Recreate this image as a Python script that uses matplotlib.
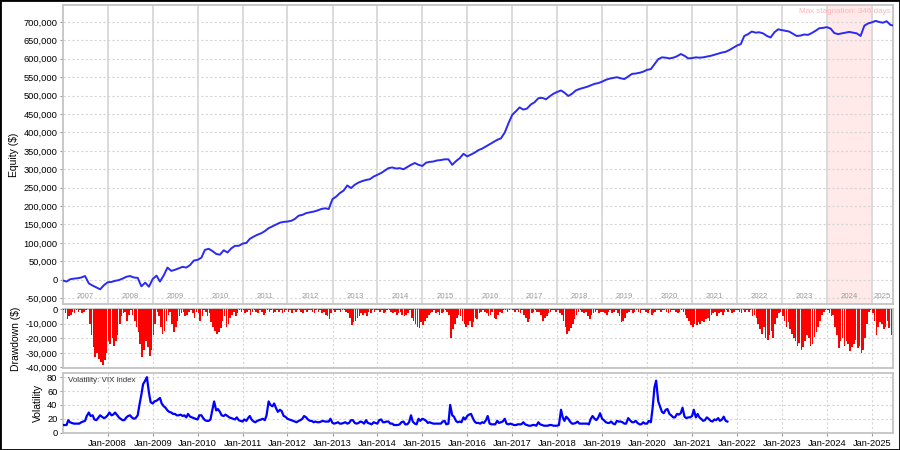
import numpy as np
import pandas as pd
import matplotlib
matplotlib.use("Agg")
import matplotlib.pyplot as plt
import matplotlib.dates as mdates
from matplotlib.patches import Rectangle
from matplotlib.ticker import FuncFormatter, MultipleLocator

plt.rcParams["font.family"] = ["Liberation Sans", "DejaVu Sans"]

# equity in thousands of $, one value per month from Jan 2007
equity_k = [
    -2, -5, 1, 3, 4, 6, 10, -10, -16, -21, -26, -15,
    -7, -6, -3, -1, 3, 8, 10, 6, 5, -18, -8, -19,
    2, 11, -5, 12, 33, 24, 27, 31, 35, 33, 40, 52,
    54, 60, 81, 84, 78, 70, 68, 80, 74, 85, 92, 92,
    98, 100, 111, 117, 122, 126, 132, 140, 145, 150, 155, 157,
    158, 160, 165, 174, 176, 181, 183, 185, 188, 192, 194, 192,
    219, 226, 235, 242, 256, 249, 258, 264, 268, 271, 273, 280,
    285, 290, 296, 303, 305, 302, 303, 300, 306, 312, 317, 312,
    309, 318, 320, 321, 324, 325, 327, 327, 312, 322, 330, 342,
    335, 340, 345, 352, 356, 362, 368, 374, 380, 384, 400, 425,
    448, 458, 468, 462, 465, 476, 482, 493, 494, 490, 498, 505,
    510, 514, 508, 499, 505, 514, 518, 521, 524, 528, 532, 534,
    538, 543, 546, 548, 550, 547, 545, 552, 559, 560, 562, 565,
    570, 572, 585, 599, 604, 603, 601, 603, 607, 613, 608, 601,
    602, 604, 603, 604, 606, 608, 611, 614, 617, 619, 624, 630,
    636, 640, 662, 667, 674, 671, 672, 669, 662, 658, 672, 680,
    678, 676, 674, 668, 662, 663, 666, 665, 670, 676, 683, 684,
    686, 682, 670, 667, 669, 671, 673, 671, 669, 662, 690, 696,
    699, 703, 700, 698, 702, 692, 690,
]

# drawdown in thousands of $, two values per month from Jan 2007
drawdown_k = [
    -1, -3, -7, -5, -4, -2, -3, -1, -2, -1, -3, -2, -1, 0, -10, -18, -26, -33, -30, -34, -36, -38, -35, -30,
    -22, -24, -20, -25, -22, -18, -10, -5, -3, -2, -8, -4, -1, -4, -8, -12, -16, -24, -33, -28, -22, -26, -32, -28,
    -18, -10, -2, -5, -12, -17, -15, -8, -4, -2, -10, -16, -12, -8, -5, -3, -2, -5, -4, -2, -1, -3, -6, -2,
    -3, -8, -5, -1, -2, -5, -3, -9, -12, -15, -17, -16, -13, -8, -5, -12, -10, -6, -4, -2, -5, -3, -1, -2,
    -1, -3, -2, -1, -4, -2, -1, -2, -3, -1, -2, -4, -3, -1, -2, -1, -3, -2, -1, -2, -1, -3, -2, -1,
    -2, -1, -3, -1, -2, -1, -1, -2, -3, -1, -2, -1, -1, -2, -3, -1, -2, -1, -3, -2, -4, -5, -7, -3,
    -1, -2, -1, -1, -2, -1, -1, -2, -3, -6, -11, -9, -8, -6, -5, -3, -4, -3, -5, -2, -3, -1, -2, -1,
    -1, -2, -1, -3, -2, -1, -1, -2, -3, -2, -4, -3, -2, -4, -5, -4, -3, -1, -6, -8, -10, -12, -13, -9,
    -11, -8, -6, -4, -3, -2, -1, -3, -2, -4, -3, -2, -1, -2, -4, -20, -14, -10, -6, -4, -5, -8, -10, -12,
    -11, -8, -12, -9, -6, -7, -3, -2, -1, -2, -3, -5, -4, -2, -6, -7, -4, -2, -3, -1, -1, -2, -1, 0,
    -1, -2, -1, -2, -3, -1, -4, -6, -9, -7, -3, -2, -1, -2, -2, -4, -8, -6, -5, -3, -2, -1, -1, -2,
    -1, -3, -4, -8, -12, -17, -15, -13, -10, -7, -4, -2, -1, -2, -3, -2, -5, -7, -4, -3, -2, -1, -3, -2,
    -2, -3, -4, -2, -1, -3, -2, -1, -3, -5, -9, -8, -6, -3, -2, -1, -3, -2, -1, -2, -3, -1, -1, -2,
    -3, -1, -4, -3, -2, -1, -1, -2, -1, -1, -2, -3, -2, -1, -1, -2, -3, -2, -1, -2, -4, -6, -8, -11,
    -12, -10, -11, -9, -10, -8, -9, -7, -6, -8, -4, -3, -2, -5, -3, -2, -4, -2, -1, -2, -1, -3, -2, -1,
    -1, -2, -3, -1, -2, -1, -2, -1, -5, -4, -6, -10, -14, -17, -12, -20, -21, -18, -15, -20, -10, -6, -3, -2,
    -5, -8, -12, -9, -14, -17, -20, -22, -25, -23, -28, -26, -22, -18, -20, -25, -24, -19, -16, -12, -8, -4, -2, -1,
    -1, -3, -5, -4, -12, -18, -27, -22, -20, -25, -22, -24, -29, -26, -24, -21, -27, -25, -30, -28, -20, -10, -2, -1,
    -3, -8, -18, -12, -9, -10, -14, -12, -8, -13, -18,
]

# VIX index, two values per month from Jan 2007 to Oct 2021
vix = [
    11, 11, 11, 18, 15, 14, 13, 13, 13, 13, 15, 16, 17, 24, 29, 24, 25, 19, 18, 21, 25, 23, 21, 22,
    25, 29, 25, 26, 29, 26, 22, 20, 18, 18, 22, 24, 25, 22, 20, 21, 25, 40, 55, 70, 75, 80, 58, 44,
    42, 45, 46, 48, 50, 42, 38, 36, 32, 30, 29, 27, 27, 25, 25, 26, 24, 25, 22, 27, 23, 22, 21, 20,
    19, 25, 25, 21, 18, 17, 17, 19, 33, 45, 32, 34, 30, 25, 24, 26, 24, 22, 21, 20, 19, 22, 18, 17,
    16, 19, 17, 21, 24, 19, 16, 15, 17, 18, 19, 20, 18, 25, 45, 40, 38, 42, 35, 30, 33, 31, 24, 23,
    20, 19, 18, 17, 16, 15, 17, 18, 20, 24, 22, 19, 17, 17, 15, 16, 15, 15, 16, 17, 16, 16, 16, 20,
    14, 13, 14, 15, 13, 13, 14, 15, 13, 14, 18, 18, 14, 13, 14, 16, 15, 13, 18, 14, 13, 12, 15, 14,
    13, 18, 19, 15, 15, 16, 16, 13, 13, 11, 11, 11, 12, 15, 16, 12, 12, 15, 25, 16, 13, 12, 20, 17,
    20, 19, 17, 14, 15, 14, 13, 13, 13, 13, 13, 16, 17, 12, 13, 40, 25, 23, 17, 15, 16, 15, 22, 19,
    24, 26, 27, 21, 16, 14, 14, 13, 15, 14, 18, 24, 13, 12, 12, 12, 17, 14, 15, 16, 20, 13, 12, 13,
    12, 11, 11, 12, 12, 12, 15, 12, 11, 10, 10, 11, 11, 10, 15, 12, 11, 10, 10, 10, 11, 11, 10, 10,
    10, 11, 33, 22, 17, 23, 20, 16, 13, 13, 14, 16, 13, 13, 13, 13, 13, 12, 20, 24, 20, 18, 22, 28,
    20, 18, 15, 14, 14, 16, 13, 12, 17, 16, 16, 15, 13, 13, 21, 18, 15, 15, 17, 14, 12, 12, 15, 13,
    13, 17, 15, 35, 65, 75, 45, 38, 30, 28, 33, 34, 27, 25, 22, 22, 27, 26, 28, 36, 23, 21, 22, 22,
    24, 33, 22, 27, 22, 20, 17, 18, 22, 20, 17, 16, 19, 18, 21, 17, 19, 23, 17, 16,
]

years = list(range(2007, 2026))
stagnation_start = "2024-01-02"
stagnation_end = "2024-12-13"
stagnation_text = "Max stagnation: 346 days"

eq_dates = pd.date_range("2007-01-01", periods=len(equity_k), freq="MS")
dd_dates = pd.date_range("2007-01-01", periods=len(drawdown_k), freq="SMS")
vix_dates = pd.date_range("2007-01-01", periods=len(vix), freq="SMS")
equity = np.array(equity_k) * 1000
drawdown = np.array(drawdown_k) * 1000

fig = plt.figure(figsize=(9, 4.5), dpi=100)
ax1 = fig.add_axes([0.070, 0.3244, 0.922, 0.6644])
ax2 = fig.add_axes([0.070, 0.1822, 0.922, 0.1311], sharex=ax1)
ax3 = fig.add_axes([0.070, 0.0378, 0.922, 0.1333], sharex=ax1)

x0 = pd.Timestamp("2007-01-03")
x1 = pd.Timestamp("2025-06-20")
jan = [pd.Timestamp(f"{y}-01-01") for y in years[1:]]
grid_c = "#d6d6d6"

for ax in (ax1, ax2, ax3):
    for s in ax.spines.values():
        s.set_color("#c4c4c4")
        s.set_linewidth(1.3)
    ax.tick_params(axis="both", labelsize=6.7, length=2, color="#999999", pad=2)
    ax.yaxis.grid(True, color=grid_c, linestyle=(0, (2, 2)), linewidth=0.8)
    ax.set_axisbelow(True)

# top: equity
ax1.axvspan(pd.Timestamp(stagnation_start), pd.Timestamp(stagnation_end),
            color="#ffe9e9", zorder=0)
for d in jan:
    ax1.axvline(d, color="#d8d8d8", linewidth=1.3, zorder=0.5)
ax1.plot(eq_dates, equity, color="#2a2af2", linewidth=1.4, zorder=3)
ax1.set_xlim(x0, x1)
ax1.set_ylim(-66000, 746000)
ax1.yaxis.set_major_locator(MultipleLocator(50000))
ax1.yaxis.set_major_formatter(FuncFormatter(lambda v, p: f"{v:,.0f}"))
ax1.set_ylabel("Equity ($)", fontsize=7.5, labelpad=3)
ax1.tick_params(axis="x", bottom=False, labelbottom=False)
tr = ax1.get_xaxis_transform()
for y in years:
    a = max(pd.Timestamp(f"{y}-01-01"), x0)
    b = min(pd.Timestamp(f"{y + 1}-01-01"), x1)
    ax1.text(a + (b - a) / 2, 0.024, str(y), transform=tr, ha="center",
             va="center", fontsize=5.6, color="#9a9a9a")
ax1.text(0.997, 0.977, stagnation_text, transform=ax1.transAxes, ha="right",
         va="center", fontsize=5.8, color="#ffb4b4")

# middle: drawdown
for d in jan:
    ax2.axvline(d, color=grid_c, linestyle=(0, (2, 2)), linewidth=0.8, zorder=0.5)
ax2.bar(dd_dates + pd.Timedelta(days=7), drawdown, width=13, color="#ff0000",
        edgecolor="none", linewidth=0, antialiased=False, zorder=3)
ax2.set_ylim(-40400, 0)
ax2.yaxis.set_major_locator(MultipleLocator(10000))
ax2.yaxis.set_major_formatter(FuncFormatter(lambda v, p: f"{v:,.0f}"))
ax2.set_ylabel("Drawdown ($)", fontsize=7.5, labelpad=3)
ax2.tick_params(axis="x", bottom=False, labelbottom=False)

# bottom: VIX
ax3.plot(vix_dates, vix, color="#0000ff", linewidth=1.6, zorder=3)
ax3.set_ylim(-0.5, 86)
ax3.yaxis.set_major_locator(MultipleLocator(20))
ax3.set_ylabel("Volatility", fontsize=7.5, labelpad=3)
ax3.set_xticks(jan)
ax3.xaxis.set_major_formatter(mdates.DateFormatter("Jan-%Y"))
ax3.xaxis.grid(True, color=grid_c, linestyle=(0, (2, 2)), linewidth=0.8)
ax3.text(0.006, 0.87, "Volatility: VIX index", transform=ax3.transAxes,
         ha="left", va="center", fontsize=5.7, color="#333333")
ax3.set_xlim(x0, x1)

fig.patches.append(Rectangle((0, 0), 1, 1, transform=fig.transFigure,
                             fill=False, edgecolor="black", linewidth=2))

fig.savefig("out.png", dpi=100)
